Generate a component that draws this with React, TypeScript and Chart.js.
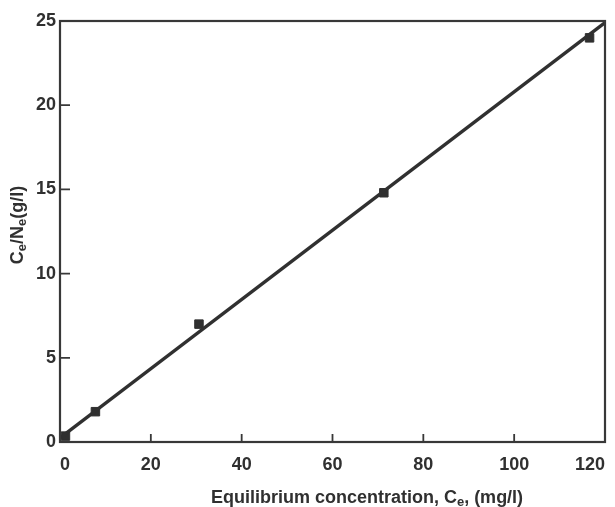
import React, { useEffect, useRef } from "react";
import { Chart, registerables } from "chart.js";

Chart.register(...registerables);

const measuredCe = [1.2, 7.8, 30.6, 71.3, 116.6];
const measuredRatio = [0.35, 1.8, 7.0, 14.8, 24.0];
const fitCe = [0, 120];
const fitRatio = [0.25, 24.9];
const xTicks = [0, 20, 40, 60, 80, 100, 120];
const yTicks = [0, 5, 10, 15, 20, 25];

const INK = "#303030";
const FONT = "'Liberation Sans', Arial, Helvetica, sans-serif";

type Run = { t: string; sub?: boolean };

function runWidth(ctx: CanvasRenderingContext2D, runs: Run[], size: number, subSize: number) {
  let w = 0;
  for (const r of runs) {
    ctx.font = `bold ${r.sub ? subSize : size}px ${FONT}`;
    w += ctx.measureText(r.t).width;
  }
  return w;
}

function drawRuns(ctx: CanvasRenderingContext2D, runs: Run[], x: number, y: number, size: number, subSize: number) {
  let cx = x;
  ctx.textBaseline = "alphabetic";
  ctx.textAlign = "left";
  for (const r of runs) {
    ctx.font = `bold ${r.sub ? subSize : size}px ${FONT}`;
    ctx.fillText(r.t, cx, r.sub ? y + size * 0.18 : y);
    cx += ctx.measureText(r.t).width;
  }
}

const framePlugin = {
  id: "frameAndTicks",
  afterDraw(chart: any) {
    const ctx: CanvasRenderingContext2D = chart.ctx;
    const { left, right, top, bottom } = chart.chartArea;
    const xs = chart.scales.x;
    const ys = chart.scales.y;
    ctx.save();
    ctx.strokeStyle = "#383838";
    ctx.lineWidth = 2.2;
    ctx.strokeRect(left, top, right - left, bottom - top);
    ctx.lineWidth = 1.8;
    ctx.beginPath();
    for (const v of xTicks.slice(1, -1)) {
      const px = xs.getPixelForValue(v);
      ctx.moveTo(px, bottom);
      ctx.lineTo(px, bottom - 8);
    }
    for (const v of yTicks.slice(1, -1)) {
      const py = ys.getPixelForValue(v);
      ctx.moveTo(left, py);
      ctx.lineTo(left + 10, py);
    }
    ctx.stroke();

    ctx.fillStyle = INK;
    // x title
    const xRuns: Run[] = [
      { t: "Equilibrium concentration, C" },
      { t: "e", sub: true },
      { t: ", (mg/l)" },
    ];
    const xw = runWidth(ctx, xRuns, 18, 13);
    drawRuns(ctx, xRuns, 367 - xw / 2, 503, 18, 13);
    // y title
    const yRuns: Run[] = [
      { t: "C" },
      { t: "e", sub: true },
      { t: "/N" },
      { t: "e", sub: true },
      { t: "(g/l)" },
    ];
    const yw = runWidth(ctx, yRuns, 18, 13);
    ctx.translate(23, 225);
    ctx.rotate(-Math.PI / 2);
    drawRuns(ctx, yRuns, -yw / 2, 0, 18, 13);
    ctx.restore();
  },
};

export default function App() {
  const ref = useRef<HTMLCanvasElement | null>(null);
  useEffect(() => {
    document.body.style.margin = "0";
    const canvas = ref.current!;
    const chart = new Chart(canvas, {
      type: "scatter",
      data: {
        datasets: [
          {
            type: "line",
            data: fitCe.map((x, i) => ({ x, y: fitRatio[i] })),
            borderColor: INK,
            borderWidth: 3.4,
            pointRadius: 0,
            fill: false,
          },
          {
            data: measuredCe.map((x, i) => ({ x, y: measuredRatio[i] })),
            pointStyle: "rect",
            pointRadius: 6,
            backgroundColor: INK,
            borderColor: INK,
            borderWidth: 1,
          },
        ],
      },
      options: {
        responsive: false,
        animation: false,
        layout: { padding: { left: 0, top: 21, right: 10, bottom: 0 } },
        plugins: { legend: { display: false }, tooltip: { enabled: false } },
        scales: {
          x: {
            type: "linear",
            min: 0,
            max: 120,
            afterBuildTicks: (s: any) => {
              s.ticks = xTicks.map((v) => ({ value: v }));
            },
            afterFit: (s: any) => {
              s.height = 65;
              s.paddingLeft = 0;
              s.paddingRight = 0;
            },
            grid: { display: false, drawTicks: false },
            border: { display: false },
            ticks: {
              color: INK,
              padding: 12,
              maxRotation: 0,
              align: "inner",
              font: { family: FONT, size: 18, weight: "bold" },
            },
          },
          y: {
            type: "linear",
            min: 0,
            max: 25,
            afterBuildTicks: (s: any) => {
              s.ticks = yTicks.map((v) => ({ value: v }));
            },
            afterFit: (s: any) => {
              s.width = 60;
              s.paddingTop = 0;
              s.paddingBottom = 0;
            },
            grid: { display: false, drawTicks: false },
            border: { display: false },
            ticks: {
              color: INK,
              padding: 4,
              font: { family: FONT, size: 18, weight: "bold" },
            },
          },
        },
      },
      plugins: [framePlugin],
    } as any);
    return () => chart.destroy();
  }, []);
  return (
    <div style={{ position: "absolute", left: 0, top: 0, width: 615, height: 507, background: "#fff" }}>
      <canvas ref={ref} width={615} height={507} style={{ display: "block" }} />
    </div>
  );
}
